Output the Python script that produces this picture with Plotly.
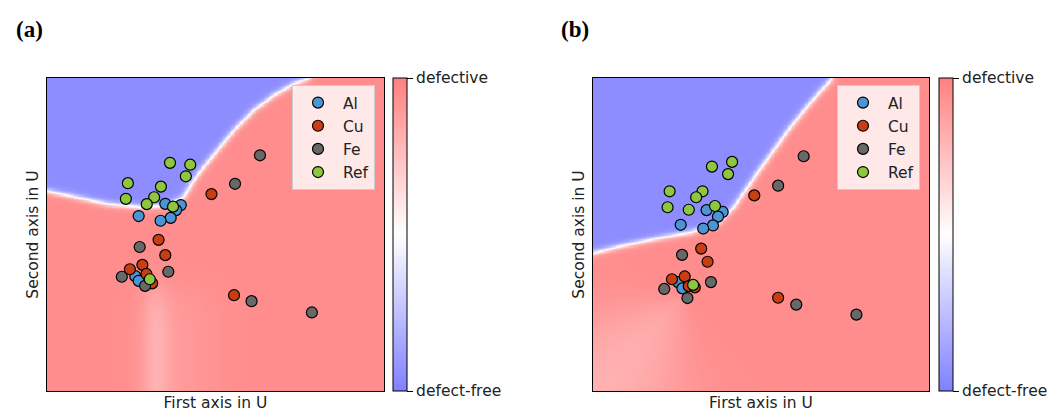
import numpy as np
import plotly.graph_objects as go

W, H = 1062, 412
FONT = "DejaVu Sans"
TEXT_COLOR = "#222222"

CLASSES = ["Al", "Cu", "Fe", "Ref"]
CLASS_COLORS = ["#4b95d5", "#c93d12", "#686868", "#8dc63f"]

# ---- panel (a): projected samples (first axis, second axis) ----
a_al_x = [3.51, 3.97, 3.83, 3.67, 3.37, 2.72, 2.62, 2.72]
a_al_y = [5.98, 5.94, 5.78, 5.53, 5.44, 5.59, 3.67, 3.52]
a_cu_x = [4.88, 3.31, 3.51, 2.83, 2.46, 2.95, 3.12, 5.55]
a_cu_y = [6.29, 4.83, 4.34, 4.03, 3.89, 3.74, 3.44, 3.06]
a_fe_x = [6.32, 5.58, 2.75, 3.60, 2.22, 2.91, 6.07, 7.86]
a_fe_y = [7.53, 6.62, 4.60, 3.81, 3.65, 3.36, 2.87, 2.51]
a_ref_x = [3.65, 4.25, 4.12, 2.40, 3.38, 2.34, 3.18, 2.96, 3.74, 3.05]
a_ref_y = [7.29, 7.23, 6.86, 6.64, 6.53, 6.14, 6.19, 5.97, 5.89, 3.57]

# ---- panel (b) ----
b_al_x = [3.38, 3.86, 3.72, 3.57, 3.28, 2.61, 2.53, 2.66]
b_al_y = [5.78, 5.72, 5.57, 5.29, 5.19, 5.31, 3.48, 3.28]
b_cu_x = [4.80, 3.22, 3.41, 2.73, 2.35, 2.85, 3.03, 5.51]
b_cu_y = [6.25, 4.55, 4.13, 3.66, 3.57, 3.35, 3.31, 2.98]
b_fe_x = [6.27, 5.51, 2.65, 3.51, 2.12, 2.81, 6.05, 7.84]
b_fe_y = [7.50, 6.56, 4.35, 3.48, 3.26, 2.97, 2.76, 2.44]
b_ref_x = [3.54, 4.14, 4.02, 2.28, 3.26, 3.07, 2.22, 2.85, 3.63, 2.98]
b_ref_y = [7.17, 7.32, 6.93, 6.38, 6.38, 6.19, 5.87, 5.79, 5.91, 3.39]

# decision boundaries (defect-free region lies above / left of each curve)
a_edge_x = [0.0, 0.78, 1.77, 2.76, 3.55, 4.04, 4.34, 4.64, 5.04, 5.53, 6.12, 6.72, 7.31, 7.71, 8.0]
a_edge_y = [6.40, 6.22, 5.99, 5.89, 5.94, 6.21, 6.74, 7.17, 7.70, 8.34, 8.98, 9.46, 9.83, 9.99, 10.3]
b_edge_x = [0.0, 0.89, 1.90, 2.89, 3.68, 4.18, 4.38, 5.07, 5.86, 6.46, 7.05, 7.2]
b_edge_y = [4.42, 4.66, 4.89, 5.08, 5.36, 5.89, 6.21, 7.27, 8.44, 9.23, 9.94, 10.3]

COLORSCALE = [[0.0, "rgb(128,128,255)"], [0.5, "rgb(255,255,255)"], [1.0, "rgb(255,128,128)"]]
PEAK = 0.9       # saturation of the classifier output away from the boundary
EDGE_W = 0.11    # width of the white transition band

gx = np.linspace(-0.05, 10.05, 261)
gy = np.linspace(-0.05, 10.05, 261)
GX, GY = np.meshgrid(gx, gy)


def polyline_distance(px, py, bx, by):
    d = np.full(px.shape, np.inf)
    for i in range(len(bx) - 1):
        x0, y0, x1, y1 = bx[i], by[i], bx[i + 1], by[i + 1]
        vx, vy = x1 - x0, y1 - y0
        t = np.clip(((px - x0) * vx + (py - y0) * vy) / (vx * vx + vy * vy), 0, 1)
        d = np.minimum(d, np.hypot(px - (x0 + t * vx), py - (y0 + t * vy)))
    return d


def decision_field(bx, by, shade):
    side = np.where(GY > np.interp(GX, bx, by), -1.0, 1.0)
    edge = np.tanh(polyline_distance(GX, GY, bx, by) / EDGE_W)
    level = np.where(side > 0, PEAK - shade, PEAK)
    return side * level * edge


# softer confidence below the mixed cluster
ramp_a = 1.0 / (1.0 + np.exp((GY - 3.2) / 0.35))
shade_a = ramp_a * (0.22 * np.exp(-((GX - 3.22) / 0.42) ** 2)
                    + 0.10 * np.exp(-((GX - 3.9) / 1.2) ** 2))

dx, dy = GX - 2.8, GY - 3.2
theta = np.degrees(np.arctan2(dy, dx))
dtheta = (theta + 130 + 180) % 360 - 180
shade_b = 0.28 * np.exp(-(dtheta / 38) ** 2) * (1 - np.exp(-np.hypot(dx, dy) / 0.9))

z_a = decision_field(a_edge_x, a_edge_y, shade_a)
z_b = decision_field(b_edge_x, b_edge_y, shade_b)


def colorbar_at(x_px):
    return dict(
        x=x_px / W, xanchor="left", xpad=0,
        y=21 / H, yanchor="bottom", ypad=0,
        len=313, lenmode="pixels", thickness=14, thicknessmode="pixels",
        outlinewidth=1, outlinecolor="black",
        tickvals=[-1, 1], ticktext=["defect-free", "defective"],
        ticks="outside", ticklen=6, tickwidth=1, tickcolor="black",
        tickfont=dict(family=FONT, size=15.5, color=TEXT_COLOR),
    )


fig = go.Figure()
fig.add_trace(go.Heatmap(x=gx, y=gy, z=z_a, zmin=-1, zmax=1, colorscale=COLORSCALE,
                         zsmooth="best", colorbar=colorbar_at(393), hoverinfo="skip",
                         xaxis="x", yaxis="y"))
fig.add_trace(go.Heatmap(x=gx, y=gy, z=z_b, zmin=-1, zmax=1, colorscale=COLORSCALE,
                         zsmooth="best", colorbar=colorbar_at(939), hoverinfo="skip",
                         xaxis="x2", yaxis="y2"))

panel_a = [(a_al_x, a_al_y), (a_cu_x, a_cu_y), (a_fe_x, a_fe_y), (a_ref_x, a_ref_y)]
panel_b = [(b_al_x, b_al_y), (b_cu_x, b_cu_y), (b_fe_x, b_fe_y), (b_ref_x, b_ref_y)]

for panel, xa, ya, leg in [(panel_a, "x", "y", "legend"), (panel_b, "x2", "y2", "legend2")]:
    for name, color, (xs, ys) in zip(CLASSES, CLASS_COLORS, panel):
        fig.add_trace(go.Scatter(
            x=xs, y=ys, mode="markers", name=name, legend=leg, legendgroup=leg + name,
            marker=dict(size=11, color=color, line=dict(color="black", width=1.2)),
            xaxis=xa, yaxis=ya,
        ))

axis_style = dict(range=[0, 10], showticklabels=False, ticks="", showgrid=False,
                  zeroline=False, showline=True, mirror=True, linecolor="black",
                  linewidth=1, automargin=False, fixedrange=True)
title_font = dict(family=FONT, size=15.5, color=TEXT_COLOR)


def legend_at(x_px):
    return dict(x=x_px / W, xanchor="left", y=(H - 85) / H, yanchor="top",
                bgcolor="rgba(255,255,255,0.8)", bordercolor="#cccccc", borderwidth=1,
                font=dict(family=FONT, size=15.5, color=TEXT_COLOR),
                tracegroupgap=0, itemwidth=40)


fig.update_layout(
    width=W, height=H, margin=dict(l=0, r=0, t=0, b=0),
    paper_bgcolor="white", plot_bgcolor="white",
    xaxis=dict(domain=[47 / W, 384 / W], anchor="y",
               title=dict(text="First axis in U", font=title_font, standoff=10), **axis_style),
    yaxis=dict(domain=[21 / H, 334 / H], anchor="x",
               title=dict(text="Second axis in U", font=title_font, standoff=3), **axis_style),
    xaxis2=dict(domain=[593 / W, 929 / W], anchor="y2",
                title=dict(text="First axis in U", font=title_font, standoff=10), **axis_style),
    yaxis2=dict(domain=[21 / H, 334 / H], anchor="x2",
                title=dict(text="Second axis in U", font=title_font, standoff=3), **axis_style),
    legend=legend_at(292),
    legend2=legend_at(837),
    annotations=[
        dict(text="<b>(a)</b>", x=14 / W, y=(H - 30) / H, xref="paper", yref="paper",
             xanchor="left", yanchor="middle", showarrow=False,
             font=dict(family="Liberation Serif", size=23, color="black")),
        dict(text="<b>(b)</b>", x=559 / W, y=(H - 30) / H, xref="paper", yref="paper",
             xanchor="left", yanchor="middle", showarrow=False,
             font=dict(family="Liberation Serif", size=23, color="black")),
    ],
)

fig.write_html("out.html", config={"displayModeBar": False})
